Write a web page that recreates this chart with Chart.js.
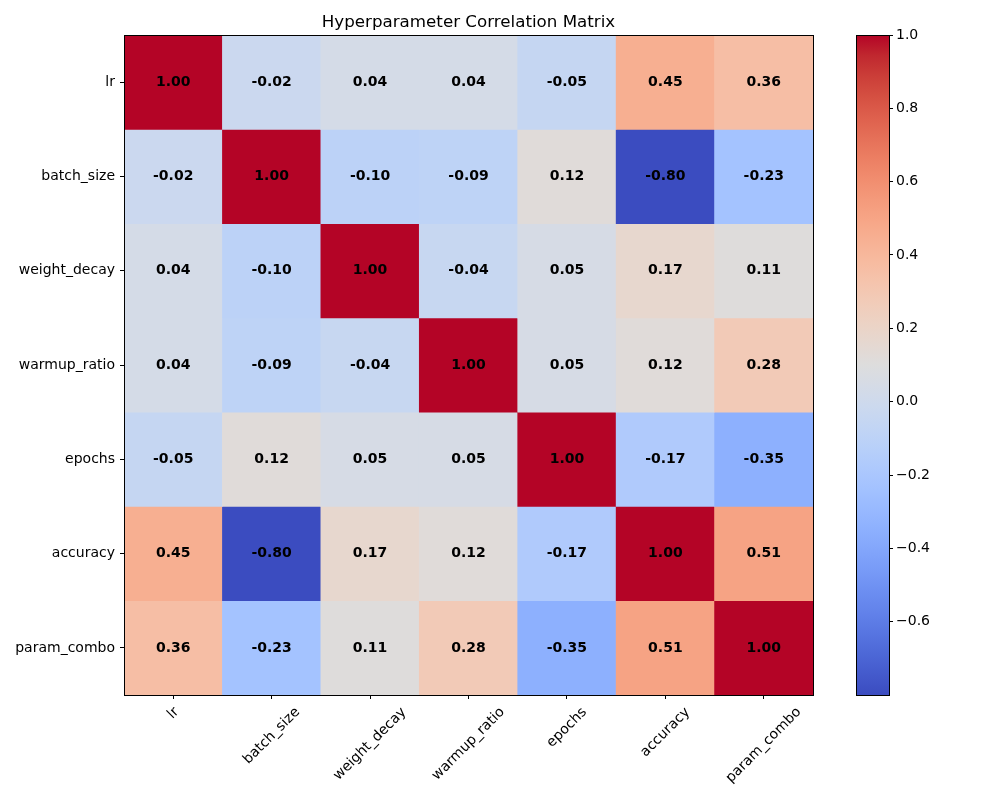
<!DOCTYPE html>
<html>
<head>
<meta charset="utf-8">
<script src="https://cdn.jsdelivr.net/npm/chart.js@4.4.1/dist/chart.umd.min.js"></script>
<style>
  body { margin: 0; background: #fff; }
  .wrap { position: relative; width: 1000px; height: 800px; }
  .wrap canvas { position: absolute; left: 0; top: 0; }
</style>
</head>
<body>
<div class="wrap">
  <canvas id="heatmap" width="1000" height="800"></canvas>
  <canvas id="colorbar" width="1000" height="800"></canvas>
</div>
<script>
// hyperparameter names (same order on both axes)
const params = ['lr', 'batch_size', 'weight_decay', 'warmup_ratio', 'epochs', 'accuracy', 'param_combo'];

// correlation rows
const lrRow          = [1.00, -0.02, 0.04, 0.04, -0.05, 0.45, 0.36];
const batchSizeRow   = [-0.02, 1.00, -0.10, -0.09, 0.12, -0.80, -0.23];
const weightDecayRow = [0.04, -0.10, 1.00, -0.04, 0.05, 0.17, 0.11];
const warmupRow      = [0.04, -0.09, -0.04, 1.00, 0.05, 0.12, 0.28];
const epochsRow      = [-0.05, 0.12, 0.05, 0.05, 1.00, -0.17, -0.35];
const accuracyRow    = [0.45, -0.80, 0.17, 0.12, -0.17, 1.00, 0.51];
const paramComboRow  = [0.36, -0.23, 0.11, 0.28, -0.35, 0.51, 1.00];

const matrix = [lrRow, batchSizeRow, weightDecayRow, warmupRow, epochsRow, accuracyRow, paramComboRow];

// colorbar ticks
const cbTicks = [-0.6, -0.4, -0.2, 0.0, 0.2, 0.4, 0.6, 0.8, 1.0];

const vmin = Math.min(...matrix.flat());
const vmax = Math.max(...matrix.flat());

// coolwarm lookup (33 points)
const coolwarm = [
  [59,76,192],[68,90,204],[77,104,215],[87,117,225],[98,130,234],[108,142,241],
  [119,154,247],[130,165,251],[141,176,254],[152,185,255],[163,194,255],[174,201,253],
  [184,208,249],[194,213,244],[204,217,238],[213,219,230],[221,221,221],[229,216,209],
  [236,211,197],[241,204,185],[245,196,173],[247,187,160],[247,177,148],[247,166,135],
  [244,154,123],[241,141,111],[236,127,99],[229,112,88],[222,96,77],[213,80,66],
  [203,62,56],[192,40,47],[180,4,38]
];

function cmap(t) {
  t = Math.max(0, Math.min(1, t));
  const p = t * (coolwarm.length - 1);
  const i = Math.min(Math.floor(p), coolwarm.length - 2);
  const f = p - i;
  const a = coolwarm[i], b = coolwarm[i + 1];
  const c = a.map((v, k) => Math.round(v + (b[k] - v) * f));
  return `rgb(${c[0]},${c[1]},${c[2]})`;
}
const colorFor = v => cmap((v - vmin) / (vmax - vmin));

const FONT = 'DejaVu Sans';

// one dataset per row; each bar spans its row band
const datasets = matrix.map((row, r) => ({
  label: params[r],
  data: row.map(() => [r - 0.5, r + 0.5]),
  backgroundColor: row.map(colorFor),
  borderWidth: 0,
  barPercentage: 1,
  categoryPercentage: 1,
  grouped: false
}));

const frame = {
  id: 'frame',
  afterDraw(chart) {
    const { ctx, chartArea: a } = chart;
    ctx.save();
    ctx.strokeStyle = '#000';
    ctx.lineWidth = 1;
    ctx.strokeRect(Math.round(a.left) + 0.5, Math.round(a.top) + 0.5,
                   Math.round(a.right - a.left), Math.round(a.bottom - a.top));
    ctx.restore();
  }
};

const cellText = {
  id: 'cellText',
  afterDatasetsDraw(chart) {
    const { ctx } = chart;
    const xs = chart.scales.x, ys = chart.scales.y;
    ctx.save();
    ctx.font = `bold 14px "${FONT}"`;
    ctx.fillStyle = '#000';
    ctx.textAlign = 'center';
    ctx.textBaseline = 'middle';
    matrix.forEach((row, r) => {
      row.forEach((v, c) => {
        ctx.fillText(v.toFixed(2), xs.getPixelForValue(c), ys.getPixelForValue(r));
      });
    });
    ctx.restore();
  }
};

// matplotlib-style rotated labels: centred under the tick
const xLabels = {
  id: 'xLabels',
  afterDraw(chart) {
    const { ctx } = chart;
    const xs = chart.scales.x;
    ctx.save();
    ctx.font = `14px "${FONT}"`;
    ctx.fillStyle = '#000';
    ctx.textAlign = 'center';
    ctx.textBaseline = 'middle';
    const ang = Math.PI / 4;
    const h = 14;
    params.forEach((name, i) => {
      const w = ctx.measureText(name).width;
      const H = w * Math.sin(ang) + h * Math.cos(ang);
      const x = xs.getPixelForValue(i);
      const y = xs.top + 10 + H / 2;
      ctx.save();
      ctx.translate(x, y);
      ctx.rotate(-ang);
      ctx.fillText(name, 0, 0);
      ctx.restore();
    });
    ctx.restore();
  }
};

new Chart(document.getElementById('heatmap'), {
  type: 'bar',
  data: { labels: params, datasets },
  options: {
    responsive: false,
    animation: false,
    devicePixelRatio: 1,
    layout: { padding: { left: 0, right: 187, top: 0, bottom: 0 } },
    plugins: {
      legend: { display: false },
      tooltip: { enabled: false },
      title: {
        display: true,
        text: 'Hyperparameter Correlation Matrix',
        color: '#000',
        fullSize: false,
        font: { family: FONT, size: 16.7, weight: 'normal', lineHeight: 1.2 },
        padding: { top: 13, bottom: 2 }
      }
    },
    scales: {
      x: {
        type: 'category',
        offset: true,
        border: { display: false },
        grid: { offset: false, drawOnChartArea: false, drawTicks: true, tickLength: 4, color: '#000' },
        ticks: { display: false },
        afterFit(scale) { scale.height = 105; }
      },
      y: {
        type: 'linear',
        reverse: true,
        min: -0.5,
        max: 6.5,
        border: { display: false },
        grid: { drawOnChartArea: false, drawTicks: true, tickLength: 4, color: '#000' },
        afterBuildTicks(scale) { scale.ticks = params.map((_, i) => ({ value: i })); },
        ticks: {
          color: '#000',
          padding: 5,
          font: { family: FONT, size: 14 },
          callback: v => params[v]
        },
        afterFit(scale) { scale.width = 124; }
      }
    }
  },
  plugins: [frame, cellText, xLabels]
});

// colorbar: one bar filled with the colormap gradient along the value scale
new Chart(document.getElementById('colorbar'), {
  type: 'bar',
  data: {
    labels: ['cb'],
    datasets: [{
      data: [[vmin, vmax]],
      borderWidth: 0,
      barPercentage: 1,
      categoryPercentage: 1,
      backgroundColor(context) {
        const chart = context.chart;
        if (!chart.chartArea) return colorFor(0);
        const ys = chart.scales.y;
        const y0 = ys.getPixelForValue(vmin), y1 = ys.getPixelForValue(vmax);
        const g = chart.ctx.createLinearGradient(0, y0, 0, y1);
        coolwarm.forEach((_, i) => {
          const t = i / (coolwarm.length - 1);
          g.addColorStop(t, cmap(t));
        });
        return g;
      }
    }]
  },
  options: {
    responsive: false,
    animation: false,
    devicePixelRatio: 1,
    layout: { padding: { left: 856, right: 0, top: 35, bottom: 105 } },
    plugins: { legend: { display: false }, tooltip: { enabled: false } },
    scales: {
      x: { display: false },
      y: {
        position: 'right',
        min: vmin,
        max: vmax,
        border: { display: false },
        grid: { drawOnChartArea: false, drawTicks: true, tickLength: 4, color: '#000' },
        afterBuildTicks(scale) { scale.ticks = cbTicks.map(v => ({ value: v })); },
        ticks: {
          color: '#000',
          padding: 3,
          font: { family: FONT, size: 14 },
          callback: v => v.toFixed(1).replace('-', '\u2212')
        },
        afterFit(scale) { scale.width = 111; }
      }
    }
  },
  plugins: [frame]
});
</script>
</body>
</html>
